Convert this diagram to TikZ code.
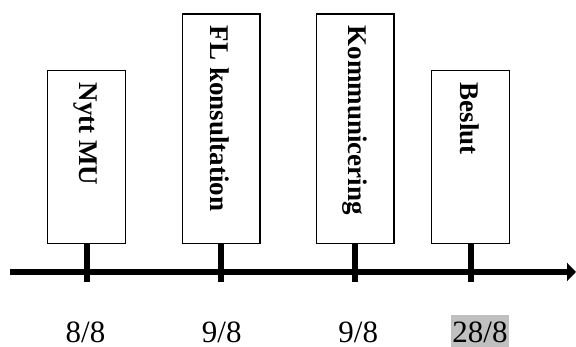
\documentclass[tikz,border=0pt]{standalone}
\usepackage{fontspec}
\setmainfont{Liberation Serif}
\usetikzlibrary{arrows.meta}
\definecolor{hl}{HTML}{C0C0C0}
\begin{document}
\begin{tikzpicture}[x=1pt,y=1pt,
  evbox/.style={draw=black, line width=1.4pt, minimum width=77.5pt, inner sep=0pt, anchor=south},
  evlabel/.style={rotate=-90, anchor=west, inner sep=0pt, font=\fontsize{27}{27}\selectfont\bfseries},
  axisline/.style={line width=6pt, -{Triangle[length=9pt,width=18pt]}},
  tickline/.style={line width=6pt},
  datelabel/.style={anchor=base, inner sep=0pt, font=\fontsize{31}{31}\selectfont}
]
\useasboundingbox (0,0) rectangle (576,347);
% boxes (bottom at y=103)
\node[evbox, minimum height=172.6pt] (b1) at (86.5,103) {};
\node[evbox, minimum height=229.4pt] (b2) at (221.1,103) {};
\node[evbox, minimum height=229.4pt] (b3) at (355.4,103) {};
\node[evbox, minimum height=172.6pt] (b4) at (470.5,103) {};
% labels
\node[evlabel] (t1) at ([xshift=-1pt,yshift=-12.5pt]b1.north) {Nytt MU};
\node[evlabel] (t2) at ([xshift=-1pt,yshift=-12.5pt]b2.north) {FL konsultation};
\node[evlabel] (t3) at ([xshift=-1pt,yshift=-12.5pt]b3.north) {Kommunicering};
\node[evlabel] (t4) at ([xshift=-1pt,yshift=-12.5pt]b4.north) {Beslut};
% axis
\coordinate (a0) at (10,75);
\coordinate (a1) at (576,75);
\draw[axisline] (a0) -- (a1);
% ticks
\foreach \i in {1,2,3,4}{
  \draw[tickline] (b\i.south) -- ++(0,-38.5);
}
% dates
\node[datelabel] (d1) at (85.5,4) {8/8};
\node[datelabel] (d2) at (221.7,4) {9/8};
\node[datelabel] (d3) at (358.3,4) {9/8};
\node[datelabel, fill=hl, inner xsep=1.5pt, text height=28pt, text depth=4pt] (d4) at (480,4) {28/8};
\end{tikzpicture}
\end{document}
